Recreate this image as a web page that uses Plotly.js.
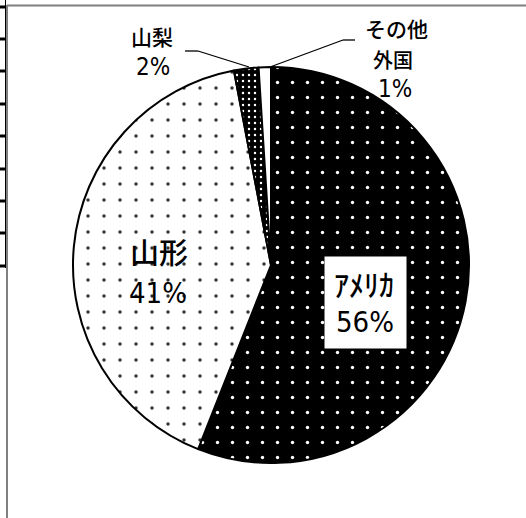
<!DOCTYPE html>
<html><head><meta charset="utf-8">
<script src="https://cdn.plot.ly/plotly-3.0.1.min.js"></script>
<style>html,body{margin:0;padding:0;background:#fff;}#chart{width:526px;height:518px;}</style>
</head><body><div id="chart"></div>
<script>
const categories = ["アメリカ", "山形", "山梨", "その他外国"];
const values = [56, 41, 2, 1];
const labelLines = [["ｱﾒﾘｶ", "56%"], ["山形", "41%"], ["山梨", "2%"], ["その他", "外国", "1%"]];

const W = 526, H = 518;
const px = x => x / W;
const py = y => 1 - y / H;
const JP = "Noto Sans CJK JP, sans-serif";
const NUM = "DejaVu Sans Condensed, Noto Sans CJK JP, sans-serif";

const trace = {
  type: "pie",
  labels: categories,
  values: values,
  sort: false,
  direction: "clockwise",
  rotation: 0,
  textinfo: "none",
  hoverinfo: "label+percent",
  showlegend: false,
  domain: {x: [px(73), px(469)], y: [py(463), py(67)]},
  marker: {
    colors: ["#000000", "#ffffff", "#000000", "#ffffff"],
    line: {color: "#000000", width: 2},
    pattern: {
      shape: [".", ".", ".", ""],
      bgcolor: ["#000000", "#ffffff", "#000000", "#ffffff"],
      fgcolor: ["#ffffff", "#333333", "#ffffff", "#ffffff"],
      size: [15, 16, 6, 8],
      solidity: [0.04, 0.035, 0.13, 0.1],
      fillmode: "replace"
    }
  }
};

function ann(x, y, text, family, size, weight, extra) {
  return Object.assign({x: px(x), y: py(y), text: text, showarrow: false,
    xanchor: "center", yanchor: "middle", xref: "paper", yref: "paper",
    font: {family: family, size: size, color: "#000", weight: weight}}, extra || {});
}

const annotations = [
  // アメリカ box (white rectangle)
  ann(365.5, 302.5, " ", JP, 10, 400, {bgcolor: "#ffffff", width: 81, height: 91, borderpad: 0}),
  ann(364, 283, labelLines[0][0], JP, 30, 500),
  ann(365, 322, labelLines[0][1], NUM, 29, 400),
  // 山形
  ann(159, 251, labelLines[1][0], JP, 29, 500),
  ann(158, 293, labelLines[1][1], NUM, 29, 400),
  // 山梨
  ann(152, 36, labelLines[2][0], JP, 21, 500),
  ann(153, 67, labelLines[2][1], NUM, 24, 400),
  // その他外国
  ann(396, 28, labelLines[3][0], JP, 21, 500),
  ann(393, 59, labelLines[3][1], JP, 20, 500),
  ann(395, 89, labelLines[3][2], NUM, 24, 400)
];

const shapes = [];
function seg(x0, y0, x1, y1, color, width) {
  shapes.push({type: "line", xref: "paper", yref: "paper", x0: px(x0), y0: py(y0), x1: px(x1), y1: py(y1),
    line: {color: color, width: width}});
}
// leader lines
seg(185, 51, 198, 51, "#000", 1.3);
seg(198, 51, 249, 67, "#000", 1.3);
seg(355, 40, 343, 40, "#000", 1.3);
seg(343, 40, 270, 67, "#000", 1.3);
// frame
seg(7, 5.5, 526, 5.5, "#808080", 2);
seg(7, 5, 7, 518, "#808080", 2);
seg(5.5, 0, 5.5, 268, "#000", 1);
const tickYs = [7, 39, 71, 104, 136, 169, 201, 233, 266];
tickYs.forEach(y => seg(0, y, 6, y, "#000", 3));

const layout = {
  width: W, height: H,
  margin: {l: 0, r: 0, t: 0, b: 0},
  paper_bgcolor: "#ffffff",
  plot_bgcolor: "#ffffff",
  showlegend: false,
  annotations: annotations,
  shapes: shapes
};
Plotly.newPlot("chart", [trace], layout, {displayModeBar: false, staticPlot: true});
</script></body></html>
